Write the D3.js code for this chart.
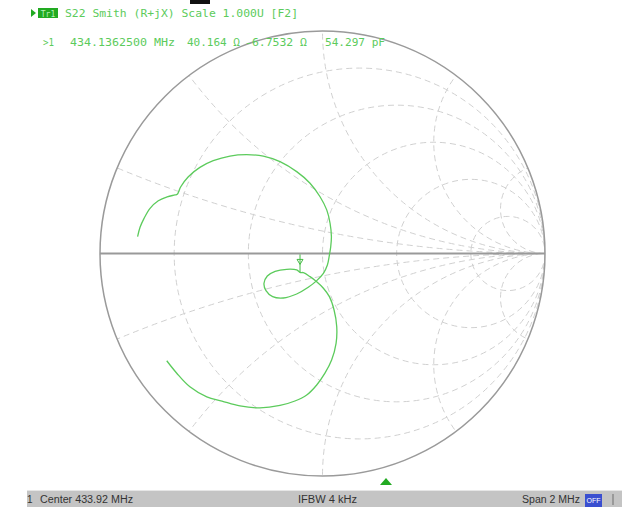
<!DOCTYPE html>
<html>
<head>
<meta charset="utf-8">
<script src="https://cdn.jsdelivr.net/npm/d3@7"></script>
<style>
  body { margin: 0; background: #fff; }
  svg { display: block; }
  .mono { font-family: "DejaVu Sans Mono", monospace; }
</style>
</head>
<body>
<div id="chart"></div>
<script>
// reflection coefficient of the trace (re, im)
const traceRe = [-0.831, -0.820, -0.802, -0.775, -0.738, -0.698, -0.663, -0.653, -0.637, -0.603,
    -0.551, -0.491, -0.416, -0.341, -0.266, -0.191, -0.116, -0.056, -0.011, 0.019,
    0.034, 0.040, 0.037, 0.031, 0.022, 0.004, -0.026, -0.064, -0.116, -0.176,
    -0.224, -0.254, -0.263, -0.248, -0.213, -0.161, -0.116, -0.101, -0.086, -0.056,
    -0.026, 0.004, 0.031, 0.052, 0.064, 0.061, 0.041, 0.011, -0.026, -0.071,
    -0.124, -0.191, -0.281, -0.371, -0.452, -0.520, -0.596, -0.655, -0.700]
const traceIm = [0.076, 0.118, 0.158, 0.203, 0.237, 0.255, 0.263, 0.266, 0.300, 0.345,
    0.387, 0.417, 0.438, 0.444, 0.438, 0.413, 0.368, 0.316, 0.255, 0.196,
    0.136, 0.076, 0.031, -0.007, -0.052, -0.089, -0.122, -0.152, -0.182, -0.200,
    -0.194, -0.167, -0.134, -0.101, -0.080, -0.071, -0.074, -0.085, -0.086, -0.104,
    -0.127, -0.156, -0.194, -0.254, -0.329, -0.404, -0.479, -0.538, -0.591, -0.636,
    -0.663, -0.683, -0.694, -0.685, -0.663, -0.644, -0.599, -0.538, -0.482]

const markerRe = -0.101
const markerIm = -0.085

const resistances = [0.2, 0.5, 1, 2, 5]
const reactances = [0.2, 0.5, 1, 2, 5]

const headerText = "S22 Smith (R+jX) Scale 1.000U [F2]"
const markerText = [">1", "434.1362500 MHz", "40.164 \u03a9", "-6.7532 \u03a9", "54.297 pF"]
const markerTextX = [43, 70, 187, 245, 325]
const markerTextW = [11, 105, 53, 62, 60]
const statusText = ["Center 433.92 MHz", "IFBW 4 kHz", "Span 2 MHz"]

const width = 622, height = 507
const cx = 322.5, cy = 253.5, R = 222.5

const svg = d3.select("#chart").append("svg")
    .attr("width", width).attr("height", height)

const x = d3.scaleLinear().domain([-1, 1]).range([cx - R, cx + R])
const y = d3.scaleLinear().domain([-1, 1]).range([cy + R, cy - R])
const k = x(1) - x(0)

svg.append("clipPath").attr("id", "unit")
    .append("circle").attr("cx", x(0)).attr("cy", y(0)).attr("r", k)

const grid = svg.append("g").attr("clip-path", "url(#unit)")
    .attr("fill", "none").attr("stroke", "#d0d0d0").attr("stroke-width", 1)
    .attr("stroke-dasharray", "6,4")

grid.selectAll("circle.r").data(resistances).join("circle")
    .attr("class", "r")
    .attr("cx", (r) => x(r / (r + 1)))
    .attr("cy", y(0))
    .attr("r", (r) => k / (r + 1))

const arcs = reactances.flatMap((v) => [v, -v])
grid.selectAll("circle.x").data(arcs).join("circle")
    .attr("class", "x")
    .attr("cx", x(1))
    .attr("cy", (v) => y(1 / v))
    .attr("r", (v) => k / Math.abs(v))

// outer circle and real axis
svg.append("circle").attr("cx", x(0)).attr("cy", y(0)).attr("r", k)
    .attr("fill", "none").attr("stroke", "#9a9a9a").attr("stroke-width", 1.5)
svg.append("line").attr("x1", x(-1)).attr("x2", x(1)).attr("y1", y(0)).attr("y2", y(0))
    .attr("stroke", "#999").attr("stroke-width", 2)

// trace
const pts = traceRe.map((re, i) => [re, traceIm[i]])
const line = d3.line().x((d) => x(d[0])).y((d) => y(d[1])).curve(d3.curveCatmullRom)
svg.append("path").attr("d", line(pts))
    .attr("fill", "none").attr("stroke", "#5ccb5c").attr("stroke-width", 1.3)

// marker flag
const mx = x(markerRe), my = y(markerIm)
svg.append("line").attr("x1", mx).attr("x2", mx).attr("y1", my).attr("y2", my - 18)
    .attr("stroke", "#44bb44").attr("stroke-width", 1)
svg.append("path")
    .attr("d", `M${mx - 3},${my - 13} L${mx + 3},${my - 13} L${mx},${my - 8} Z`)
    .attr("fill", "none").attr("stroke", "#44bb44").attr("stroke-width", 1)

// header
svg.append("rect").attr("x", 190).attr("y", 0).attr("width", 20).attr("height", 4).attr("fill", "#111")
svg.append("path").attr("d", "M31,9 L36,13 L31,17 Z").attr("fill", "#22aa22")
svg.append("rect").attr("x", 38).attr("y", 8).attr("width", 20).attr("height", 10).attr("fill", "#22aa22")
svg.append("text").attr("class", "mono").attr("x", 48).attr("y", 16.5)
    .attr("text-anchor", "middle").attr("font-size", 8).attr("fill", "#b8f0b8").text("Tr1")
svg.append("text").attr("class", "mono").attr("x", 65).attr("y", 17)
    .attr("font-size", 10).attr("fill", "#5ccb5c")
    .attr("textLength", 233).attr("lengthAdjust", "spacingAndGlyphs").text(headerText)

svg.selectAll("text.mk").data(markerText).join("text")
    .attr("class", "mk mono")
    .attr("x", (d, i) => markerTextX[i]).attr("y", 46)
    .attr("font-size", 10).attr("fill", "#5ccb5c")
    .attr("textLength", (d, i) => markerTextW[i]).attr("lengthAdjust", "spacingAndGlyphs")
    .text((d) => d)

// stimulus marker
svg.append("path").attr("d", "M380,485 L386,478 L392,485 Z").attr("fill", "#22aa22")

// status bar
const bar = svg.append("g").attr("font-family", "Liberation Sans, Arial, sans-serif")
    .attr("font-size", 10).attr("fill", "#333")
bar.append("rect").attr("x", 27).attr("y", 490).attr("width", 595).attr("height", 17).attr("fill", "#c4c4c4")
bar.append("rect").attr("x", 27).attr("y", 490).attr("width", 595).attr("height", 1).attr("fill", "#e6e6e6")
bar.append("text").attr("x", 27).attr("y", 502.5).text("1")
bar.append("text").attr("x", 40).attr("y", 502.5)
    .attr("textLength", 93).attr("lengthAdjust", "spacingAndGlyphs").text(statusText[0])
bar.append("text").attr("x", 298).attr("y", 502.5)
    .attr("textLength", 59).attr("lengthAdjust", "spacingAndGlyphs").text(statusText[1])
bar.append("text").attr("x", 522).attr("y", 502.5)
    .attr("textLength", 58).attr("lengthAdjust", "spacingAndGlyphs").text(statusText[2])
bar.append("rect").attr("x", 585).attr("y", 494).attr("width", 17).attr("height", 13).attr("fill", "#3a4fd0")
bar.append("text").attr("x", 593.5).attr("y", 503).attr("text-anchor", "middle")
    .attr("fill", "#fff").attr("font-size", 7).text("OFF")
bar.append("rect").attr("x", 612).attr("y", 494).attr("width", 2).attr("height", 11).attr("fill", "#999")
</script>
</body>
</html>
